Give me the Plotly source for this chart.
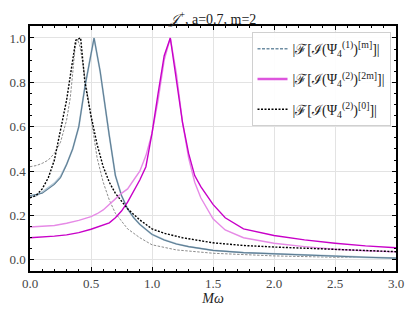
import plotly.graph_objects as go

# ---- data ----
w_blue = [0, 0.05, 0.1, 0.15, 0.2, 0.25, 0.3, 0.35, 0.4, 0.45, 0.5, 0.525, 0.575, 0.6, 0.65, 0.7,
          0.75, 0.8, 0.85, 0.9, 1.0, 1.1, 1.2, 1.3, 1.4, 1.5, 1.75, 2.0, 2.25, 2.5, 2.75, 3.0]
v_blue = [0.29, 0.295, 0.30, 0.32, 0.34, 0.37, 0.43, 0.50, 0.60, 0.78, 0.93, 1.0, 0.85, 0.75, 0.56, 0.38,
          0.29, 0.23, 0.19, 0.16, 0.115, 0.09, 0.072, 0.06, 0.05, 0.043, 0.033, 0.027, 0.021, 0.016, 0.012, 0.008]
v_blue_light = [0.285, 0.29, 0.305, 0.325, 0.345, 0.375, 0.43, 0.50, 0.60, 0.78, 0.93, 1.0, 0.85, 0.75, 0.56, 0.38,
                0.29, 0.23, 0.19, 0.16, 0.115, 0.09, 0.072, 0.06, 0.05, 0.043, 0.033, 0.027, 0.021, 0.016, 0.012, 0.008]

w_mag = [0, 0.1, 0.2, 0.3, 0.4, 0.5, 0.55, 0.6, 0.65, 0.7, 0.75, 0.8, 0.85, 0.9, 0.95, 1.0, 1.05, 1.1, 1.15,
         1.2, 1.25, 1.3, 1.35, 1.4, 1.5, 1.6, 1.75, 2.0, 2.25, 2.5, 2.75, 3.0]
v_mag = [0.10, 0.102, 0.107, 0.113, 0.123, 0.138, 0.148, 0.158, 0.167, 0.19, 0.22, 0.26, 0.31, 0.36, 0.42, 0.57,
         0.75, 0.92, 1.0, 0.82, 0.62, 0.48, 0.38, 0.33, 0.25, 0.19, 0.14, 0.11, 0.09, 0.075, 0.063, 0.055]
v_mag_light = [0.148, 0.150, 0.155, 0.165, 0.178, 0.195, 0.208, 0.225, 0.248, 0.275, 0.30, 0.32, 0.36, 0.40,
               0.47, 0.57, 0.72, 0.90, 1.0, 0.84, 0.62, 0.46, 0.35, 0.28, 0.185, 0.135, 0.10, 0.075, 0.06,
               0.048, 0.041, 0.036]

w_blk = [0, 0.05, 0.1, 0.15, 0.2, 0.25, 0.3, 0.35, 0.375, 0.415, 0.45, 0.5, 0.55, 0.6, 0.65, 0.7, 0.8, 0.9,
         1.0, 1.1, 1.25, 1.5, 1.75, 2.0, 2.5, 3.0]
v_blk = [0.28, 0.29, 0.32, 0.37, 0.45, 0.58, 0.72, 0.90, 0.99, 1.0, 0.80, 0.65, 0.52, 0.42, 0.35, 0.30, 0.23,
         0.18, 0.14, 0.12, 0.10, 0.077, 0.065, 0.058, 0.046, 0.037]

w_grey = [0, 0.05, 0.1, 0.15, 0.2, 0.25, 0.3, 0.33, 0.35, 0.37, 0.39, 0.41, 0.44, 0.47, 0.5, 0.55, 0.6, 0.65,
          0.7, 0.8, 0.9, 1.0, 1.2, 1.5, 2.0, 2.5, 3.0]
v_grey = [0.42, 0.425, 0.435, 0.45, 0.48, 0.53, 0.63, 0.73, 0.84, 0.96, 0.995, 0.96, 0.86, 0.75, 0.64, 0.46,
          0.35, 0.27, 0.21, 0.14, 0.10, 0.068, 0.045, 0.03, 0.018, 0.012, 0.01]

legend_labels = [
    "|ℱ[ℐ(Ψ<sub>4</sub><sup>(1)</sup>)<sup>[m]</sup>]|",
    "|ℱ[ℐ(Ψ<sub>4</sub><sup>(2)</sup>)<sup>[2m]</sup>]|",
    "|ℱ[ℐ(Ψ<sub>4</sub><sup>(2)</sup>)<sup>[0]</sup>]|",
]

FONT = "Liberation Serif"

fig = go.Figure()
fig.add_trace(go.Scatter(x=w_grey, y=v_grey, mode="lines", showlegend=False,
                         line=dict(color="#8c8c8c", width=1.0, dash="2.5px,1.5px")))
fig.add_trace(go.Scatter(x=w_blue, y=v_blue_light, mode="lines", showlegend=False,
                         line=dict(color="#b4c8d6", width=1.8)))
fig.add_trace(go.Scatter(x=w_blue, y=v_blue, mode="lines", showlegend=False,
                         line=dict(color="#5e7e94", width=1.1)))
fig.add_trace(go.Scatter(x=w_mag, y=v_mag_light, mode="lines", showlegend=False,
                         line=dict(color="#e68ae6", width=1.4)))
fig.add_trace(go.Scatter(x=w_mag, y=v_mag, mode="lines", showlegend=False,
                         line=dict(color="#c800c8", width=1.4)))
fig.add_trace(go.Scatter(x=w_blk, y=v_blk, mode="lines", showlegend=False,
                         line=dict(color="black", width=1.4, dash="2px,1.5px")))

# legend entries
fig.add_trace(go.Scatter(x=[None], y=[None], mode="lines", name=legend_labels[0], legendgroup="a",
                         line=dict(color="#6f8ea3", width=1.4, dash="3px,1.5px")))
fig.add_trace(go.Scatter(x=[None], y=[None], mode="lines", name=legend_labels[1], legendgroup="b",
                         line=dict(color="#dd55dd", width=2.6)))
fig.add_trace(go.Scatter(x=[None], y=[None], mode="lines", name=legend_labels[2], legendgroup="c",
                         line=dict(color="black", width=1.5, dash="2px,1.5px")))

axis_common = dict(
    showline=True, linecolor="black", linewidth=1.5, mirror="allticks",
    ticks="inside", ticklen=4, tickcolor="black", tickwidth=1,
    showgrid=True, gridcolor="#e3e3e3", gridwidth=1, zeroline=False, automargin=False,
    tickfont=dict(family=FONT, size=13, color="#444"),
)
fig.update_xaxes(range=[0, 3], dtick=0.5, tick0=0, tickformat=".1f",
                 minor=dict(dtick=0.1, ticks="inside", ticklen=2, tickcolor="black", showgrid=False),
                 title=dict(text="<i>Mω</i>", font=dict(family=FONT, size=14, color="#222"), standoff=2),
                 **axis_common)
fig.update_yaxes(range=[-0.05, 1.054], dtick=0.2, tick0=0, tickformat=".1f",
                 minor=dict(dtick=0.05, ticks="inside", ticklen=2, tickcolor="black", showgrid=False),
                 **axis_common)

fig.update_layout(
    width=415, height=312,
    margin=dict(l=30, r=19, t=26, b=41),
    paper_bgcolor="white", plot_bgcolor="white",
    title=dict(text="<i>𝒥</i><sup>+</sup>, a=0.7, m=2", x=0.513, xanchor="center", y=0.922, yanchor="bottom",
               font=dict(family=FONT, size=14, color="#222")),
    legend=dict(x=0.985, y=0.975, xanchor="right", yanchor="top",
                bgcolor="rgba(255,255,255,0.9)", bordercolor="#d0d0d0", borderwidth=1,
                font=dict(family=FONT, size=14, color="#222"),
                itemwidth=30, tracegroupgap=9),
)

fig.write_html("out.html", config={"displayModeBar": False},
               post_script="document.body.style.margin='0';")
